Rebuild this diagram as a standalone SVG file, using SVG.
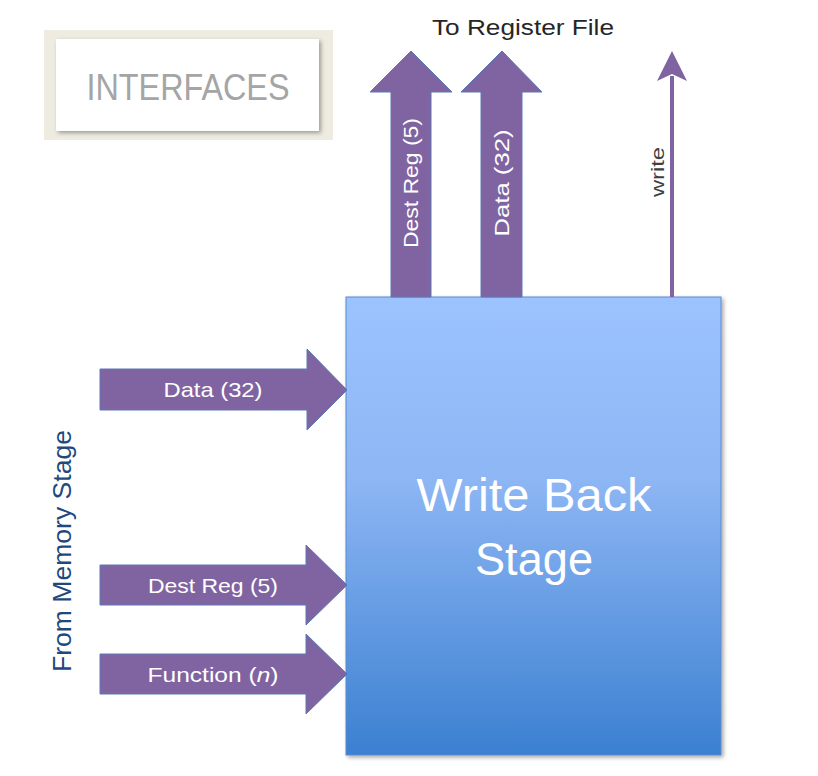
<svg xmlns="http://www.w3.org/2000/svg" width="818" height="776" viewBox="0 0 818 776">
<defs>
<linearGradient id="boxg" x1="0" y1="0" x2="0" y2="1">
<stop offset="0" stop-color="#9CC3FE"/>
<stop offset="0.4" stop-color="#8DB6F4"/>
<stop offset="1" stop-color="#3B80D1"/>
</linearGradient>
<filter id="sh" x="-5%" y="-5%" width="115%" height="115%">
<feGaussianBlur in="SourceAlpha" stdDeviation="2"/>
<feOffset dx="2" dy="2" result="b"/>
<feComponentTransfer><feFuncA type="linear" slope="0.35"/></feComponentTransfer>
<feMerge><feMergeNode/><feMergeNode in="SourceGraphic"/></feMerge>
</filter>
</defs>
<style>
.arr{fill:#8064A2;stroke:#5A78B4;stroke-width:1}
.lbl{font-family:"Liberation Sans",Arial,sans-serif;fill:#FFFFFF;font-size:21px}
.t{font-family:"Liberation Sans",Arial,sans-serif}
</style>
<rect width="818" height="776" fill="#FFFFFF"/>

<g id="interfaces">
<rect x="44" y="30" width="289" height="110" fill="#EEEBE1"/>
<rect x="56" y="39" width="263" height="92" fill="#FFFFFF" filter="url(#sh)"/>
<text class="t" x="188" y="100" font-size="36" fill="#A5A5A5" text-anchor="middle" textLength="203" lengthAdjust="spacingAndGlyphs">INTERFACES</text>
</g>

<g id="to-register-file">
<text class="t" x="523" y="35" font-size="22" fill="#262626" text-anchor="middle" textLength="182" lengthAdjust="spacingAndGlyphs">To Register File</text>
</g>

<g id="from-memory-stage">
<text class="t" transform="translate(71,551) rotate(-90)" font-size="25" fill="#1F497D" text-anchor="middle" textLength="242" lengthAdjust="spacingAndGlyphs">From Memory Stage</text>
</g>

<g id="write-back-stage">
<rect x="346" y="297" width="375" height="458" fill="url(#boxg)" stroke="#5A8AD0" stroke-width="1" filter="url(#sh)"/>
<text class="t" x="534" y="511" font-size="47" fill="#FFFFFF" text-anchor="middle" textLength="235" lengthAdjust="spacingAndGlyphs">Write Back</text>
<text class="t" x="534" y="575" font-size="47" fill="#FFFFFF" text-anchor="middle" textLength="118" lengthAdjust="spacingAndGlyphs">Stage</text>
</g>

<g id="connectors">
<g id="out-dest-reg">
<path class="arr" d="M391,297 L391,92 L370,92 L411,51 L452,92 L431,92 L431,297 Z"/>
<text class="lbl" transform="translate(418,183) rotate(-90)" text-anchor="middle" textLength="130" lengthAdjust="spacingAndGlyphs">Dest Reg (5)</text>
</g>
<g id="out-data">
<path class="arr" d="M481,297 L481,92 L461,92 L502,51 L542,92 L522,92 L522,297 Z"/>
<text class="lbl" transform="translate(509,183) rotate(-90)" text-anchor="middle" textLength="107" lengthAdjust="spacingAndGlyphs">Data  (32)</text>
</g>
<g id="out-write">
<line x1="672" y1="297" x2="672" y2="76" stroke="#8064A2" stroke-width="4"/>
<path d="M672,51 L657,81 L672,74 L687,81 Z" fill="#8064A2"/>
<text class="t" transform="translate(664,172) rotate(-90)" font-size="18" fill="#3F3F3F" text-anchor="middle" textLength="50" lengthAdjust="spacingAndGlyphs">write</text>
</g>
<g id="in-data">
<path class="arr" d="M100,369 L307,369 L307,349 L347,390 L307,430 L307,410 L100,410 Z"/>
<text class="lbl" x="213" y="397" text-anchor="middle" textLength="99" lengthAdjust="spacingAndGlyphs">Data (32)</text>
</g>
<g id="in-dest-reg">
<path class="arr" d="M100,565 L306,565 L306,545 L347,585 L306,625 L306,605 L100,605 Z"/>
<text class="lbl" x="213" y="593" text-anchor="middle" textLength="130" lengthAdjust="spacingAndGlyphs">Dest Reg (5)</text>
</g>
<g id="in-function">
<path class="arr" d="M100,654 L306,654 L306,634 L347,674 L306,714 L306,694 L100,694 Z"/>
<text class="lbl" x="213" y="682" text-anchor="middle" textLength="131" lengthAdjust="spacingAndGlyphs">Function (<tspan font-style="italic">n</tspan>)</text>
</g>
</g>
</svg>
